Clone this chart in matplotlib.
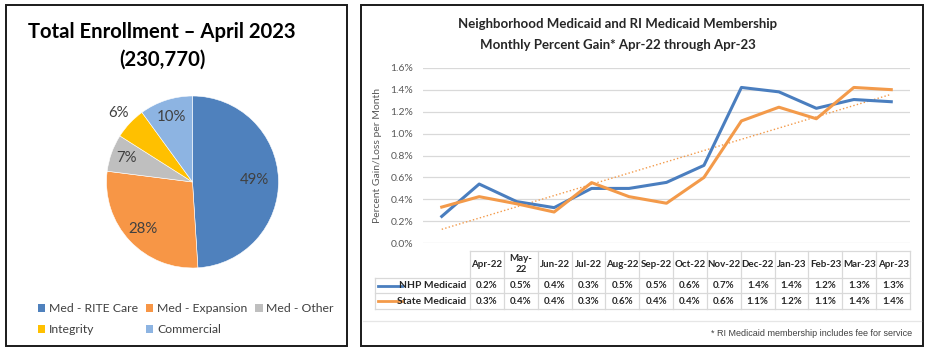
import numpy as np
import matplotlib
matplotlib.use("Agg")
import matplotlib.pyplot as plt
from matplotlib.patches import Rectangle, Patch
from matplotlib.ticker import FuncFormatter

W, H = 930, 350
FONT = "Lato"

# ---- Données ----
pie_labels = ["Med - RITE Care", "Med - Expansion", "Med - Other", "Integrity", "Commercial"]
pie_shares = [49, 28, 7, 6, 10]
pie_colors = ["#4F81BD", "#F79646", "#BFBFBF", "#FFC000", "#8DB4E2"]

months = ["Apr-22", "May-\n22", "Jun-22", "Jul-22", "Aug-22", "Sep-22", "Oct-22",
          "Nov-22", "Dec-22", "Jan-23", "Feb-23", "Mar-23", "Apr-23"]
nhp = [0.245, 0.54, 0.38, 0.325, 0.50, 0.50, 0.555, 0.71, 1.42, 1.38, 1.23, 1.31, 1.29]
state = [0.33, 0.425, 0.36, 0.285, 0.553, 0.425, 0.365, 0.60, 1.115, 1.24, 1.135, 1.42, 1.40]

BLUE = "#4A7EBF"
ORANGE = "#F39A4A"
GRID = "#D9D9D9"
MUTED = "#595959"


def box(x0, y0, x1, y1):
    """Boîte en pixels (haut-gauche -> bas-droite) vers coordonnées figure."""
    return [x0 / W, 1 - y1 / H, (x1 - x0) / W, (y1 - y0) / H]


fig = plt.figure(figsize=(W / 100, H / 100), dpi=100, facecolor="white")

# calque en pixels pour cadres, tableau, notes
ov = fig.add_axes([0, 0, 1, 1])
ov.set_xlim(0, W)
ov.set_ylim(H, 0)
ov.axis("off")

for x0, x1 in [(5.5, 346.5), (361, 923)]:
    ov.add_patch(Rectangle((x0, 4.5), x1 - x0, 341, facecolor="none",
                           edgecolor="#1A1A1A", linewidth=1.4))

# ---- Camembert ----
ov.text(162, 32, "Total Enrollment \u2013 April 2023", ha="center", va="center",
        fontsize=14.6, fontweight="bold", family=FONT)
ov.text(162, 60, "(230,770)", ha="center", va="center",
        fontsize=14.6, fontweight="bold", family=FONT)

axp = fig.add_axes(box(106.5, 96, 278.5, 268))
wedges, _ = axp.pie(pie_shares, colors=pie_colors, startangle=90, counterclock=False,
                    radius=1, wedgeprops=dict(edgecolor="white", linewidth=0.4))
axp.set_xlim(-1, 1)
axp.set_ylim(-1, 1)
axp.set_aspect("equal")
label_r = [0.72, 0.79, 0.81, 1.18, 0.79]
for w, share, r in zip(wedges, pie_shares, label_r):
    ang = np.deg2rad((w.theta1 + w.theta2) / 2)
    axp.text(r * np.cos(ang), r * np.sin(ang), f"{share}%", ha="center", va="center",
             fontsize=10.8, color="#404040", family=FONT)

order = [0, 3, 1, 4, 2]
handles = [Patch(facecolor=pie_colors[i], edgecolor="none") for i in order]
fig.legend(handles, [pie_labels[i] for i in order], ncol=3,
           loc="upper left", bbox_to_anchor=(38 / W, 1 - 303 / H), frameon=False,
           prop=dict(family=FONT, size=8.8), handlelength=0.6, handleheight=0.6,
           handletextpad=0.3, columnspacing=0.65, labelspacing=0.85,
           labelcolor="#404040", borderaxespad=0, borderpad=0)

# ---- Courbes ----
ov.text(618, 24, "Neighborhood Medicaid and RI Medicaid Membership", ha="center",
        va="center", fontsize=9.5, fontweight="bold", family=FONT, color="#262626")
ov.text(618, 45, "Monthly Percent Gain* Apr-22 through Apr-23", ha="center",
        va="center", fontsize=9.5, fontweight="bold", family=FONT, color="#262626")

ax = fig.add_axes(box(423, 67.7, 910, 243.3))
ax.patch.set_alpha(0)
x = np.arange(len(months))
ax.plot(x, nhp, color=BLUE, linewidth=2.2, zorder=3)
ax.plot(x, state, color=ORANGE, linewidth=2.2, zorder=3)
# tendance linéaire (pointillés) sur la série State
coef = np.polyfit(x, state, 1)
ax.plot(x, np.polyval(coef, x), color=ORANGE, linewidth=1.0,
        linestyle=(0, (1, 1.6)), zorder=2)
ax.set_xlim(-0.5, len(months) - 0.5)
ax.set_ylim(0, 1.6)
ax.set_yticks(np.arange(0, 1.61, 0.2))
ax.yaxis.set_major_formatter(FuncFormatter(lambda v, _: f"{v:.1f}%"))
ax.set_xticks([])
ax.grid(axis="y", color=GRID, linewidth=0.9, zorder=0)
for s in ax.spines.values():
    s.set_visible(False)
ax.tick_params(axis="y", length=0, pad=7, labelsize=7.5, labelcolor=MUTED)
for t in ax.get_yticklabels():
    t.set_family(FONT)
ax.set_ylabel("Percent Gain/Loss per Month", fontsize=7.5, color=MUTED,
              family=FONT, labelpad=6)

# ---- Tableau de données ----
T_LEFT, T_COL0, T_RIGHT = 375, 470, 910
Y_TOP, Y_H, Y_R1, Y_R2 = 250.7, 277.7, 293.3, 309
cw = (T_RIGHT - T_COL0) / len(months)
lc = dict(color=GRID, linewidth=0.9)
ov.plot([T_COL0, T_RIGHT], [Y_TOP, Y_TOP], **lc)
for yy in (Y_H, Y_R1, Y_R2):
    ov.plot([T_LEFT, T_RIGHT], [yy, yy], **lc)
ov.plot([T_LEFT, T_LEFT], [Y_H, Y_R2], **lc)
for k in range(len(months) + 1):
    xx = T_COL0 + k * cw
    ov.plot([xx, xx], [Y_TOP, Y_R2], **lc)

txt = dict(ha="center", va="center", fontsize=7.0, fontweight="bold",
           family=FONT, color="#262626")
for i, m in enumerate(months):
    cx = T_COL0 + (i + 0.5) * cw
    ov.text(cx, (Y_TOP + Y_H) / 2, m, linespacing=1.25, **txt)
    ov.text(cx, (Y_H + Y_R1) / 2, f"{nhp[i]:.1f}%", **txt)
    ov.text(cx, (Y_R1 + Y_R2) / 2, f"{state[i]:.1f}%", **txt)

for yy, name, col in [((Y_H + Y_R1) / 2, "NHP Medicaid", BLUE),
                      ((Y_R1 + Y_R2) / 2, "State Medicaid", ORANGE)]:
    ov.plot([378, 402], [yy, yy], color=col, linewidth=2)
    ov.text(466, yy, name, ha="right", va="center", fontsize=7.4,
            fontweight="bold", family=FONT, color="#262626")

ov.plot([363, 921], [321, 321], color="#E6E6E6", linewidth=0.9)
ov.text(912, 334, "* RI Medicaid membership includes fee for service", ha="right",
        va="center", fontsize=6.5, family="Liberation Sans", color="#404040")

fig.savefig("out.png", dpi=100, facecolor="white")
